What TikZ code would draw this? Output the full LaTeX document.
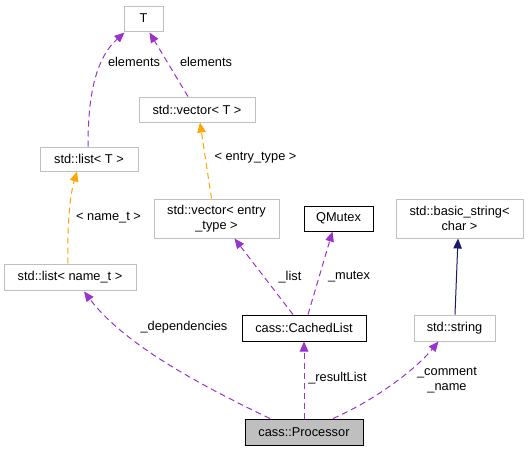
\documentclass[tikz,border=0pt]{standalone}
\usepackage{fontspec}
\setmainfont{Liberation Sans}
\usetikzlibrary{arrows.meta,calc}
\definecolor{edgepurple}{HTML}{9A32CD}
\definecolor{edgeorange}{HTML}{FFA500}
\definecolor{edgenavy}{HTML}{191970}
\definecolor{boxgray}{HTML}{BFBFBF}
\begin{document}
\begin{tikzpicture}[x=1pt,y=-1pt,
  font=\fontsize{12.8}{14.5}\selectfont,
  gbox/.style={draw=boxgray, line width=1pt, fill=white, inner sep=0pt, align=center, minimum height=25pt},
  kbox/.style={gbox, draw=black},
  pbox/.style={gbox, draw=black, fill=boxgray},
  tipA/.style={-{Triangle[length=10pt,width=8.5pt]}},
  use/.style={tipA, draw=edgepurple, line width=1pt, dash pattern=on 6pt off 4pt},
  tmpl/.style={tipA, draw=edgeorange, line width=1pt, dash pattern=on 6pt off 4pt},
  inh/.style={tipA, draw=edgenavy, line width=1pt},
  lbl/.style={inner sep=0pt, align=center}]
\fill[white] (0,0) rectangle (528,451);
\useasboundingbox (0,0) rectangle (528,451);
% nodes
\node[gbox, minimum width=39pt] (T) at (143.5,18.5) {T};
\node[gbox, minimum width=116pt] (vecT) at (197,109.5) {std::vector< T >};
\node[gbox, minimum width=98pt, minimum height=24pt] (listT) at (89,159) {std::list< T >};
\node[gbox, minimum width=125pt, minimum height=39pt] (vecE) at (216.5,218.5) {std::vector< entry\\\_type >};
\node[gbox, minimum width=132pt, minimum height=26pt] (listN) at (70,277) {std::list< name\_t >};
\node[kbox, minimum width=69pt] (mutex) at (338.5,218.5) {QMutex};
\node[gbox, minimum width=127pt, minimum height=39pt] (bstr) at (459.5,218.5) {std::basic\_string<\\char >};
\node[kbox, minimum width=124pt, minimum height=26pt] (cached) at (304,328) {cass::CachedList};
\node[gbox, minimum width=81pt, minimum height=26pt] (str) at (454.5,328) {std::string};
\node[pbox, minimum width=118pt, minimum height=26pt] (proc) at (304,432) {cass::Processor};
% edges
\draw[use] ($(listT.north)+(-1,0)$) .. controls (88,100) and (94,60) .. ($(T.south west)+(1,1)$);
\draw[use] ($(vecT.north)+(-9,0)$) -- ($(T.south)+(6,1)$);
\draw[tmpl] ($(vecE.north)+(-5,0)$) -- ($(vecT.south)+(3,0)$);
\draw[tmpl] ($(listN.north)+(-2,0)$) .. controls (67,225) and (70,195) .. ($(listT.south)+(-12,0)$);
\draw[use] ($(cached.north)+(-11,0)$) -- ($(vecE.south)+(18,0)$);
\draw[use] ($(cached.north)+(4,0)$) -- ($(mutex.south)+(-6,0)$);
\draw[inh] ($(str.north)+(0.5,0)$) -- ($(bstr.south)+(-1.5,0)$);
\draw[use] ($(proc.north)+(-34,0)$) .. controls (200,385) and (125,345) .. ($(listN.south)+(14,1)$);
\draw[use] (proc.north) -- (cached.south);
\draw[use] ($(proc.north)+(29,0)$) .. controls (375,400) and (415,370) .. ($(str.south)+(-16,0)$);
% labels
\node[lbl] (l1) at (134,62) {elements};
\node[lbl] (l2) at (206,62) {elements};
\node[lbl] (l3) at (255.5,158) {< entry\_type >};
\node[lbl] (l4) at (108.5,218) {< name\_t >};
\node[lbl] (l5) at (290,277) {\_list};
\node[lbl] (l6) at (349,277) {\_mutex};
\node[lbl] (l7) at (184,327) {\_dependencies};
\node[lbl] (l8) at (337.5,378) {\_resultList};
\node[lbl] (l9) at (447,380) {\_comment\\\_name};
\end{tikzpicture}
\end{document}
